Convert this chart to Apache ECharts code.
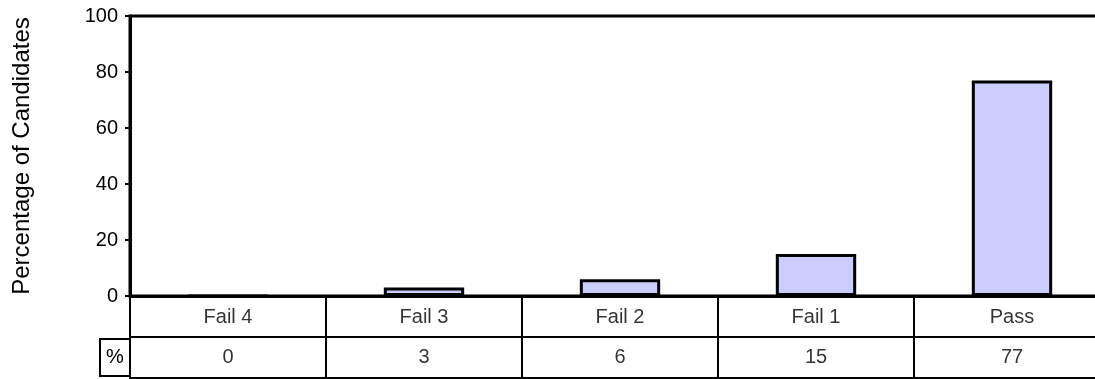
<!DOCTYPE html>
<html>
<head>
<meta charset="utf-8">
<script src="https://cdn.jsdelivr.net/npm/echarts@6/dist/echarts.min.js"></script>
<style>
  html, body { margin: 0; padding: 0; background: #fff; overflow: hidden; }
  /* the plot runs past the right edge of the window in the original */
  #chart { width: 1112px; height: 379px; }
</style>
</head>
<body>
<div id="chart"></div>
<script>
// data
var categories = ['Fail 4', 'Fail 3', 'Fail 2', 'Fail 1', 'Pass'];
var percents = [0, 3, 6, 15, 77];
var yTicks = [0, 20, 40, 60, 80, 100];
var rowLabel = '%';

var chart = echarts.init(document.getElementById('chart'));
var font = 'Liberation Sans, Arial, sans-serif';

// table cells under the plot
var nameCells = categories.map(function (c) { return [c, 'name']; });
var valueCells = categories.map(function (c, i) { return [c, 'pct', percents[i]]; });

chart.setOption({
  animation: false,
  textStyle: { fontFamily: font, color: '#000' },
  grid: [
    { left: 130, top: 16, width: 980, height: 280, show: true, borderColor: '#000', borderWidth: 3 },
    { left: 130, top: 296, width: 980, height: 82, show: true, borderColor: '#000', borderWidth: 2 }
  ],
  xAxis: [
    {
      type: 'category', gridIndex: 0, data: categories,
      axisLine: { lineStyle: { color: '#000', width: 3 } },
      axisTick: { show: false }, axisLabel: { show: false }
    },
    {
      type: 'category', gridIndex: 1, data: categories,
      axisLine: { show: false }, axisTick: { show: false }, axisLabel: { show: false },
      splitLine: { show: true, interval: 0, lineStyle: { color: '#000', width: 2 } }
    }
  ],
  yAxis: [
    {
      type: 'value', gridIndex: 0, min: yTicks[0], max: yTicks[yTicks.length - 1], interval: 20,
      name: 'Percentage of Candidates', nameLocation: 'middle', nameGap: 96,
      nameTextStyle: { fontSize: 24, fontFamily: font, color: '#000' },
      axisLine: { show: true, lineStyle: { color: '#000', width: 3 } },
      axisTick: { show: true, length: 5, lineStyle: { color: '#000', width: 2 } },
      axisLabel: { fontSize: 20, margin: 12, color: '#000', fontFamily: font },
      splitLine: { show: false }
    },
    {
      type: 'category', gridIndex: 1, data: ['pct', 'name'],
      axisLine: { show: false }, axisTick: { show: false },
      splitLine: { show: true, interval: 0, lineStyle: { color: '#000', width: 2 } },
      axisLabel: {
        margin: 0,
        formatter: function (v) { return v === 'pct' ? '{b|' + rowLabel + '}' : ''; },
        rich: {
          b: {
            fontSize: 20, fontFamily: font, color: '#000',
            width: 24, height: 37, lineHeight: 37, align: 'left',
            padding: [0, 0, 0, 6], borderColor: '#000', borderWidth: 2
          }
        }
      }
    }
  ],
  series: [
    {
      type: 'bar', xAxisIndex: 0, yAxisIndex: 0, data: percents, barWidth: '41%',
      itemStyle: { color: '#ccccff', borderColor: '#000', borderWidth: 3 }
    },
    {
      type: 'scatter', xAxisIndex: 1, yAxisIndex: 1, data: nameCells, symbolSize: 1,
      itemStyle: { color: 'rgba(0,0,0,0)' },
      label: {
        show: true, position: 'inside', offset: [0, 1], fontSize: 20, fontFamily: font, color: '#000',
        formatter: function (p) { return p.value[0]; }
      }
    },
    {
      type: 'scatter', xAxisIndex: 1, yAxisIndex: 1, data: valueCells, symbolSize: 1,
      itemStyle: { color: 'rgba(0,0,0,0)' },
      label: {
        show: true, position: 'inside', fontSize: 20, fontFamily: font, color: '#000',
        formatter: function (p) { return String(p.value[2]); }
      }
    }
  ]
});
</script>
</body>
</html>
